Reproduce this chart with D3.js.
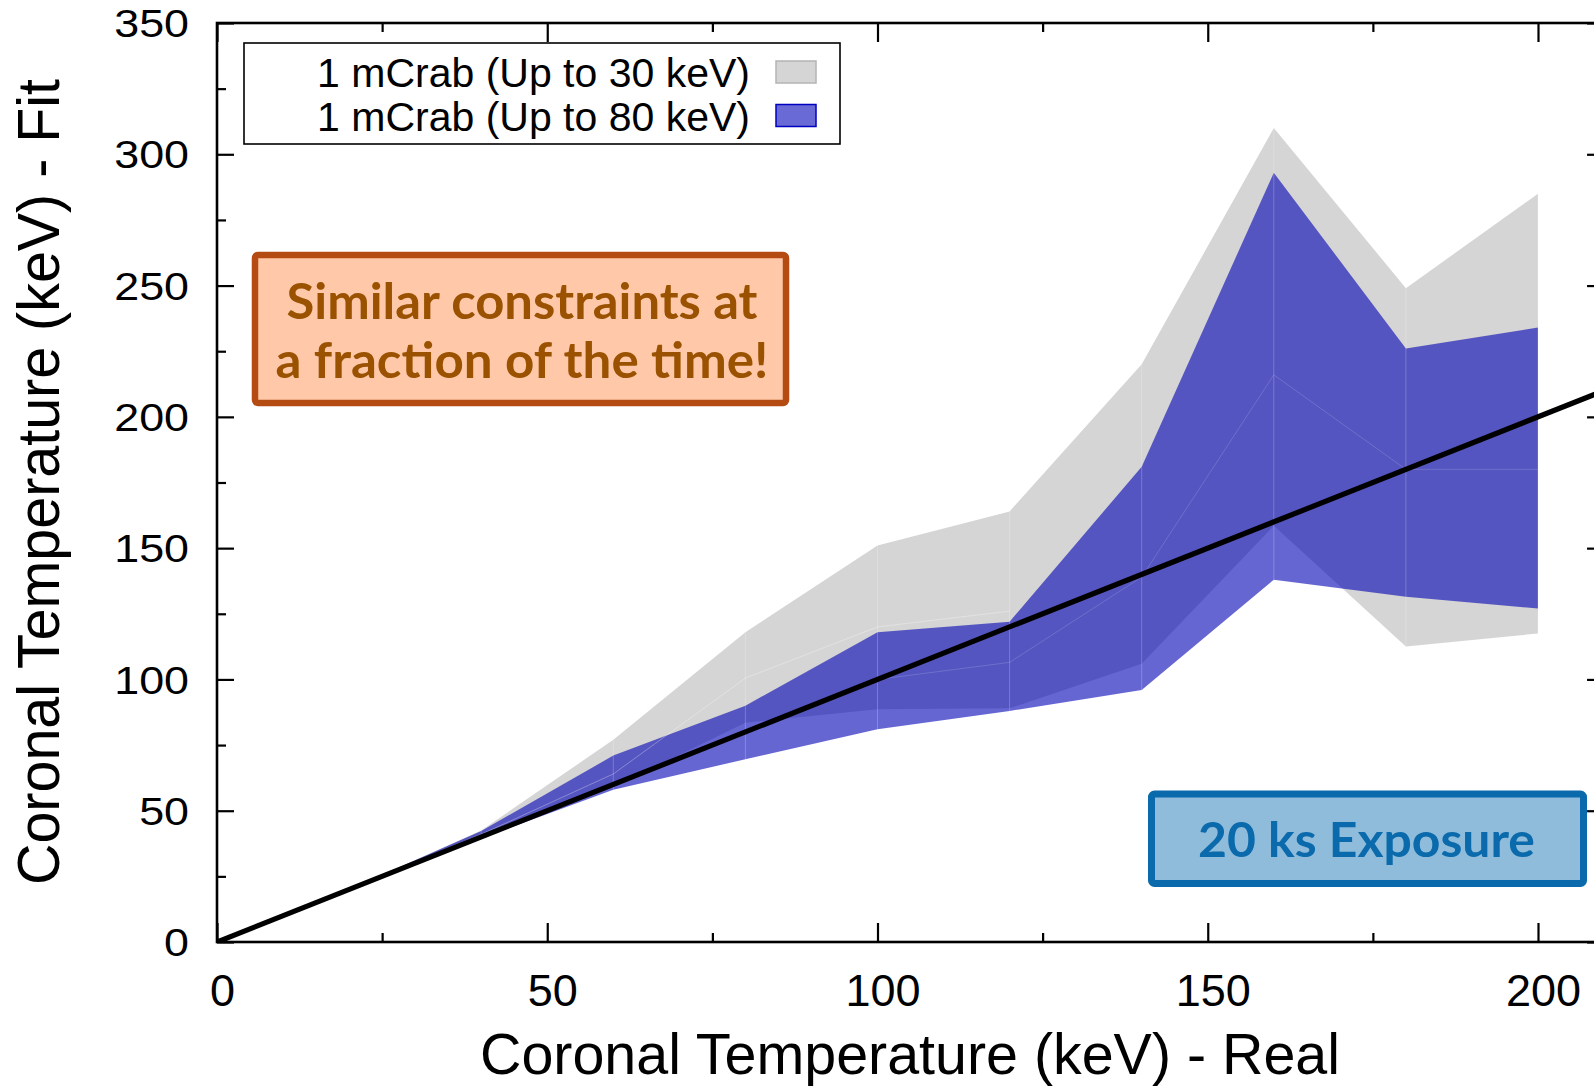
<!DOCTYPE html>
<html><head><meta charset="utf-8">
<script src="https://cdn.jsdelivr.net/npm/d3@7"></script>
<style>
html,body{margin:0;padding:0;background:#fff;}
svg{display:block;}
</style></head>
<body>
<svg id="chart" width="1594" height="1089"></svg>
<script>
// ---- data ----
const realTemp   = [20, 40, 60, 80, 100, 120, 140, 160, 180, 200];
const gray30Hi   = [20, 42.5, 77, 118, 151, 164, 220, 310, 249, 285];
const gray30Lo   = [20, 39.5, 59, 83.5, 88.6, 89, 106, 158.5, 112.5, 117.5];
const blue80Hi   = [20, 42.3, 71, 90, 118, 122, 181, 293, 226, 234];
const blue80Lo   = [20, 39.5, 58, 69.6, 81, 88, 96, 138, 131.5, 127];
const blue80Mid  = [20, 41, 60, 80, 100, 106.5, 139, 216, 180, 180];
const gray30MidX = [20, 40, 60, 80, 100, 120];
const gray30Mid  = [20, 41, 64, 100.5, 120, 126];
const xTicks = [0, 50, 100, 150, 200];
const yTicks = [0, 50, 100, 150, 200, 250, 300, 350];
const xMinor = [25, 75, 125, 175];
const yMinor = [25, 75, 125, 175, 225, 275, 325];
const legendLabels = ["1 mCrab (Up to 30 keV)", "1 mCrab (Up to 80 keV)"];
const note1 = ["Similar constraints at", "a fraction of the time!"];
const note2 = "20 ks Exposure";
const xTitle = "Coronal Temperature (keV) - Real";
const yTitle = "Coronal Temperature (keV) - Fit";

// ---- layout ----
const svg = d3.select("#chart");
const L = 217, T = 23, B = 942;
const x = d3.scaleLinear().domain([0, 210]).range([L, L + 210 * 6.605]);
const y = d3.scaleLinear().domain([0, 350]).range([B, T]);
const R = x(210);

const GRAY = "#d5d5d5";
const BLUE = "#0000b4", BLUE_OP = 0.6;

const defs = svg.append("defs");
defs.append("clipPath").attr("id", "clip").append("rect")
  .attr("x", L).attr("y", T).attr("width", R - L).attr("height", B - T);

const plot = svg.append("g").attr("clip-path", "url(#clip)");

const area = (hi, lo) => d3.area()
  .x((d, i) => x(realTemp[i]))
  .y0((d, i) => y(lo[i]))
  .y1((d, i) => y(hi[i]))(realTemp);

plot.append("path").attr("d", area(gray30Hi, gray30Lo)).attr("fill", GRAY);
plot.append("path").attr("d", area(blue80Hi, blue80Lo))
  .attr("fill", BLUE).attr("fill-opacity", BLUE_OP);

// faint seams
realTemp.forEach((t, i) => {
  if (i === 0) return;
  const top = Math.max(gray30Hi[i], blue80Hi[i]);
  const bot = Math.min(gray30Lo[i], blue80Lo[i]);
  plot.append("line").attr("x1", x(t)).attr("x2", x(t))
    .attr("y1", y(top)).attr("y2", y(bot))
    .attr("stroke", "#fff").attr("stroke-opacity", 0.22).attr("stroke-width", 1);
});
const line = d3.line();
plot.append("path")
  .attr("d", line(realTemp.map((t, i) => [x(t), y(blue80Mid[i])])))
  .attr("fill", "none").attr("stroke", "#fff").attr("stroke-opacity", 0.15).attr("stroke-width", 1);
plot.append("path")
  .attr("d", line(gray30MidX.map((t, i) => [x(t), y(gray30Mid[i])])))
  .attr("fill", "none").attr("stroke", "#fff").attr("stroke-opacity", 0.3).attr("stroke-width", 1);

// y = x line
plot.append("path")
  .attr("d", line([[x(0), y(0)], [x(210), y(210)]]))
  .attr("stroke", "#000").attr("stroke-width", 5.2).attr("fill", "none");

// ---- axes ----
const axW = 2.2;
function styleAxis(g) {
  g.select(".domain").remove();
  g.selectAll(".tick line").attr("stroke", "#000").attr("stroke-width", axW);
}
svg.append("g").attr("transform", `translate(0,${B})`)
  .call(d3.axisBottom(x).tickValues(xTicks).tickSize(-19).tickPadding(0).tickFormat(d3.format("d")))
  .call(styleAxis)
  .call(g => g.selectAll("text").attr("font-family", "'Liberation Sans', Arial, sans-serif")
    .attr("font-size", 45).attr("fill", "#000").attr("y", 64).attr("dy", 0).attr("dx", 5));
svg.append("g").attr("transform", `translate(0,${B})`)
  .call(d3.axisBottom(x).tickValues(xMinor).tickSize(-9).tickFormat(""))
  .call(styleAxis);
svg.append("g").attr("transform", `translate(0,${T})`)
  .call(d3.axisTop(x).tickValues(xTicks).tickSize(-19).tickFormat(""))
  .call(styleAxis);
svg.append("g").attr("transform", `translate(0,${T})`)
  .call(d3.axisTop(x).tickValues(xMinor).tickSize(-9).tickFormat(""))
  .call(styleAxis);

svg.append("g").attr("transform", `translate(${L},0)`)
  .call(d3.axisLeft(y).tickValues(yTicks).tickSize(-17).tickPadding(28).tickFormat(d3.format("d")))
  .call(styleAxis)
  .call(g => g.selectAll("text").attr("font-family", "'Liberation Sans', Arial, sans-serif")
    .attr("font-size", 38).attr("fill", "#000")
    .attr("transform", "scale(1.18,1)").attr("x", -28 / 1.18).attr("dy", "0.36em"));
svg.append("g").attr("transform", `translate(${L},0)`)
  .call(d3.axisLeft(y).tickValues(yMinor).tickSize(-9).tickFormat(""))
  .call(styleAxis);
svg.append("g").attr("transform", `translate(${R},0)`)
  .call(d3.axisRight(y).tickValues(yTicks).tickSize(-17).tickFormat(""))
  .call(styleAxis);
svg.append("g").attr("transform", `translate(${R},0)`)
  .call(d3.axisRight(y).tickValues(yMinor).tickSize(-9).tickFormat(""))
  .call(styleAxis);

// frame
svg.append("rect").attr("x", L).attr("y", T).attr("width", R - L).attr("height", B - T)
  .attr("fill", "none").attr("stroke", "#000").attr("stroke-width", 2.6);

// ---- titles ----
svg.append("text").text(xTitle)
  .attr("x", 910).attr("y", 1074).attr("text-anchor", "middle")
  .attr("font-family", "'Liberation Sans', Arial, sans-serif").attr("font-size", 57)
  .attr("textLength", 860).attr("lengthAdjust", "spacingAndGlyphs");
svg.append("text").text(yTitle)
  .attr("transform", "translate(59,482) rotate(-90)").attr("text-anchor", "middle")
  .attr("font-family", "'Liberation Sans', Arial, sans-serif").attr("font-size", 60)
  .attr("textLength", 806).attr("lengthAdjust", "spacingAndGlyphs");

// ---- legend ----
const lg = svg.append("g");
lg.append("rect").attr("x", 244).attr("y", 43).attr("width", 596).attr("height", 101)
  .attr("fill", "#fff").attr("stroke", "#000").attr("stroke-width", 1.6);
const swatch = [{fill: GRAY, stroke: "#b4b4b4"}, {fill: "#6a6ad6", stroke: "#0000c0"}];
legendLabels.forEach((lab, i) => {
  const cy = 72 + i * 43.5;
  lg.append("text").text(lab).attr("x", 750).attr("y", cy + 15).attr("text-anchor", "end")
    .attr("font-family", "'Liberation Sans', Arial, sans-serif").attr("font-size", 41);
  lg.append("rect").attr("x", 776).attr("y", cy - 11).attr("width", 40).attr("height", 22)
    .attr("fill", swatch[i].fill).attr("stroke", swatch[i].stroke).attr("stroke-width", 1.5);
});

// ---- annotation boxes ----
const noteFont = "'Lato', 'Noto Sans', sans-serif";
svg.append("rect").attr("x", 255).attr("y", 255).attr("width", 531).attr("height", 148)
  .attr("rx", 3).attr("fill", "#ffc9a9").attr("stroke", "#b34b12").attr("stroke-width", 6.5);
note1.forEach((s, i) => {
  svg.append("text").text(s).attr("x", 522).attr("y", 319 + i * 59).attr("text-anchor", "middle")
    .attr("font-family", noteFont).attr("font-weight", 700).attr("font-size", 50)
    .attr("fill", "#9a5200")
    .attr("textLength", i === 0 ? 471 : 493).attr("lengthAdjust", "spacingAndGlyphs");
});
svg.append("rect").attr("x", 1151.5).attr("y", 794).attr("width", 432).attr("height", 89.5)
  .attr("rx", 3).attr("fill", "#8fbcdb").attr("stroke", "#0a6aab").attr("stroke-width", 7);
svg.append("text").text(note2).attr("x", 1366.5).attr("y", 857).attr("text-anchor", "middle")
  .attr("font-family", noteFont).attr("font-weight", 700).attr("font-size", 48)
  .attr("fill", "#0a6aab").attr("textLength", 337).attr("lengthAdjust", "spacingAndGlyphs");
</script>
</body></html>
